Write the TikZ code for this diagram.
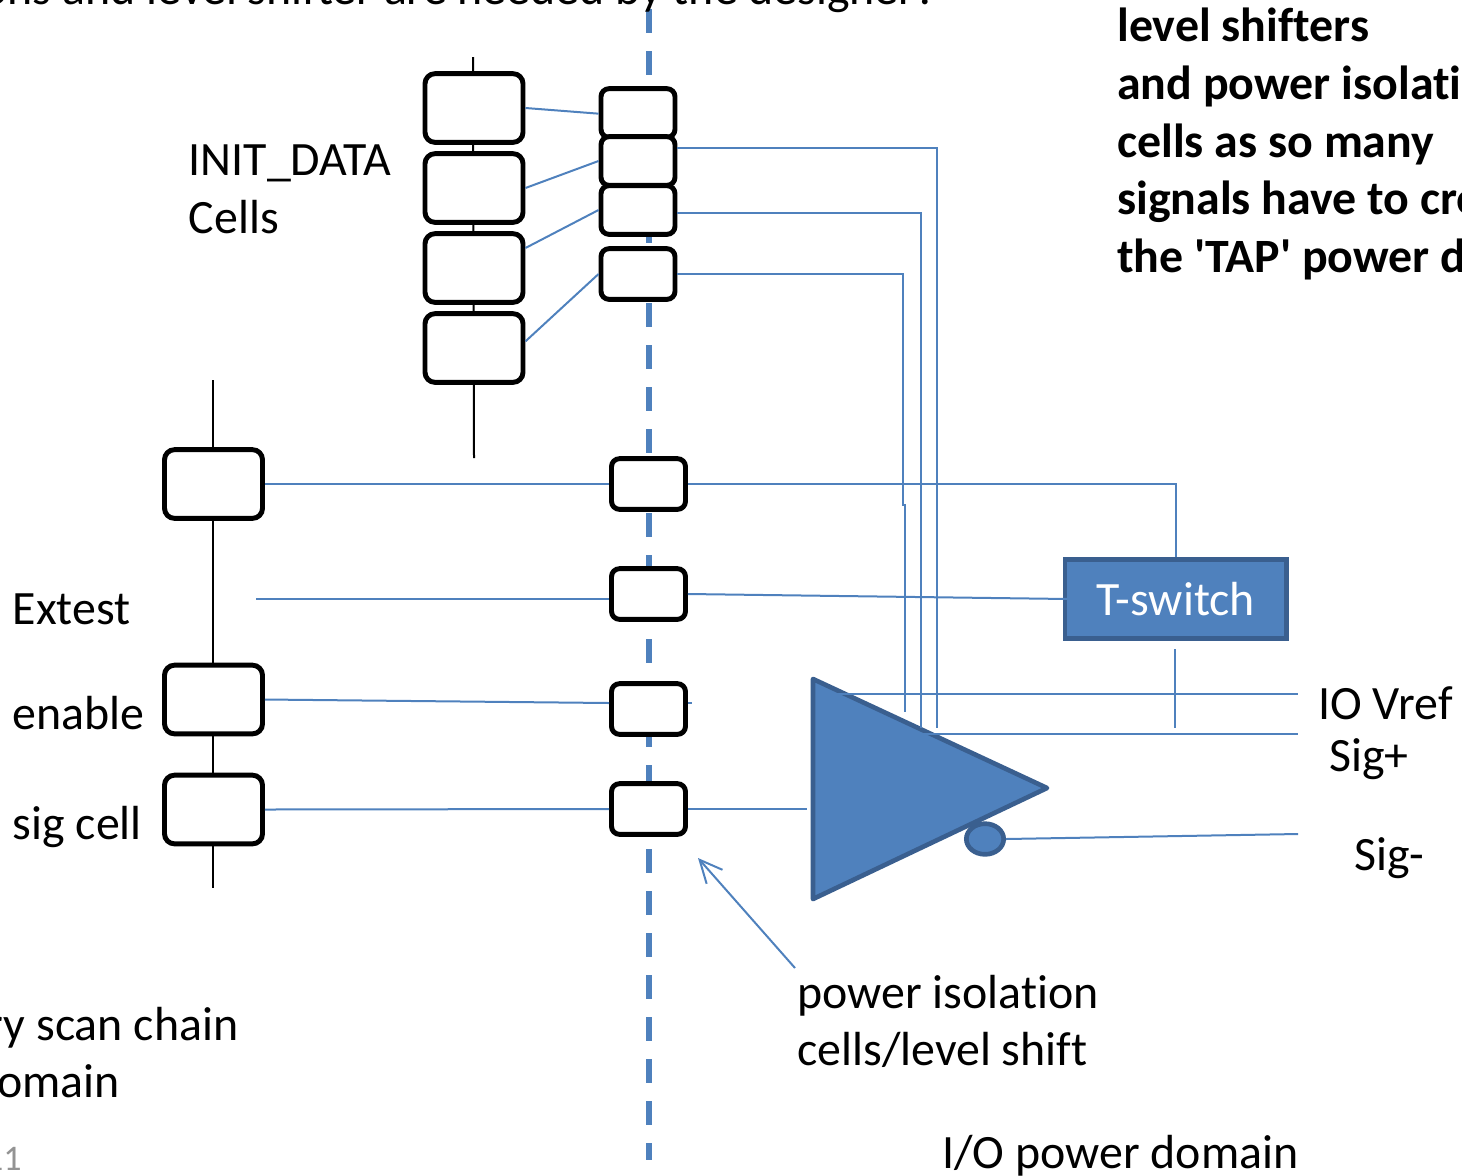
\documentclass[tikz,border=0pt]{standalone}
\usepackage{fontspec}
\setmainfont{Carlito}[Ligatures=NoCommon]
\usetikzlibrary{arrows.meta,shapes.geometric}
\definecolor{accent}{HTML}{4F81BD}
\definecolor{accentdark}{HTML}{3A5F8F}
\newcommand{\bodysize}{\fontsize{35.9}{43}\selectfont}
\tikzset{
  x=0.75pt, y=-0.75pt,
  cellbox/.style={draw=black, fill=white, line width=3.7pt, inner sep=0pt},
  bigcell/.style={cellbox, minimum width=73.5pt, minimum height=51.5pt, rounded corners=7.5pt},
  midcell/.style={cellbox, minimum width=55.5pt, minimum height=38pt, rounded corners=6pt},
  chainline/.style={draw=black, line width=1.5pt},
  wire/.style={draw=accent, line width=1.5pt},
  powerline/.style={draw=accent, line width=4.5pt, dash pattern=on 18pt off 13.5pt},
  lbl/.style={anchor=base west, inner sep=0pt, font=\bodysize, text=black},
  boldlbl/.style={lbl, font=\bodysize\bfseries},
  ampfill/.style={fill=accent, draw=accentdark, line width=3.5pt, line join=round},
}
\begin{document}
\begin{tikzpicture}
\useasboundingbox (0,0) rectangle (1462,1175);
\clip (0,0) rectangle (1462,1175);
% free ends
\coordinate (dashtop) at (649,9);
\coordinate (dashbot) at (649,1160);
\coordinate (chainAtop) at (473,57);
\coordinate (chainAbot) at (474,458);
\coordinate (chainBtop) at (213,380);
\coordinate (chainBbot) at (213,888);
\coordinate (extestin) at (256,599);
\coordinate (enablestub) at (692,703);
\coordinate (triin) at (807,809);
\coordinate (vrefL) at (835,694);
\coordinate (vrefR) at (1298,694);
\coordinate (sigpL) at (920,734);
\coordinate (sigpR) at (1298,734);
\coordinate (signR) at (1298,834);
\coordinate (tswdownA) at (1175,649);
\coordinate (tswdownB) at (1175,728);
\coordinate (arrowfrom) at (795,968);
\coordinate (arrowto) at (698,858);
\coordinate (r1end) at (937,728);
\coordinate (r2end) at (921,728);
\coordinate (r3end) at (905,712);
\coordinate (tri1) at (813,679);
\coordinate (tri2) at (1047,788);
\coordinate (tri3) at (813,899);

\draw[powerline] (dashtop) -- (dashbot);
\draw[chainline] (chainAtop) -- (chainAbot);
\draw[chainline] (chainBtop) -- (chainBbot);

% amplifier
\draw[ampfill] (tri1) -- (tri2) -- (tri3) -- cycle;
\node[ellipse, draw=accentdark, fill=accent, line width=3.5pt, minimum width=28pt, minimum height=23pt, inner sep=0pt] (bubble) at (985,839) {};

% cells
\node[bigcell] (a1) at (474,108) {};
\node[bigcell] (a2) at (474,188) {};
\node[bigcell] (a3) at (474,268) {};
\node[bigcell] (a4) at (474,348) {};
\node[midcell, minimum height=36.5pt] (s1) at (638,113) {};
\node[midcell, minimum height=36.5pt] (s2) at (638,161) {};
\node[midcell, minimum height=36.5pt] (s3) at (638,210) {};
\node[midcell] (s4) at (638,274) {};
\node[bigcell] (b1) at (213.5,484) {};
\node[bigcell] (b2) at (213.5,699.5) {};
\node[bigcell] (b3) at (213.5,809.5) {};
\node[midcell] (m1) at (648.5,484) {};
\node[midcell] (m2) at (648.5,594) {};
\node[midcell] (m3) at (648.5,709) {};
\node[midcell] (m4) at (648.5,809) {};
\node[draw=accentdark, fill=accent, line width=3.5pt, minimum width=166pt, minimum height=59.5pt, inner sep=0pt, text=white, font=\bodysize] (tsw) at (1175.5,599) {T-switch};

% wires
\draw[wire] (a1.east) -- ([yshift=-0.5pt]s1.west);
\draw[wire] (a2.east) -- (s2.west);
\draw[wire] ([yshift=15pt]a3.east) -- (s3.west);
\draw[wire] ([yshift=5pt]a4.east) -- (s4.west);
\draw[wire] (s2.east |- 0,148) -| (r1end);
\draw[wire] (s3.east |- 0,213) -| (r2end);
\draw[wire] (s4.east) -| (903,505) -- (905,505) -- (r3end);
\draw[wire] (b1.east) -- (m1.west);
\draw[wire] (m1.east) -| (tsw.north);
\draw[wire] (extestin) -- (m2.west |- extestin);
\draw[wire] (m2.east) -- (1068,599);
\draw[wire] (b2.east) -- (m3.west |- enablestub);
\draw[wire] (m3.east |- enablestub) -- (enablestub);
\draw[wire] (b3.east) -- (m4.west);
\draw[wire] (m4.east) -- (triin);
\draw[wire] (vrefL) -- (vrefR);
\draw[wire] (sigpL) -- (sigpR);
\draw[wire] (bubble.east) -- (signR);
\draw[wire] (tswdownA) -- (tswdownB);
\draw[wire, -{Straight Barb[length=17pt,width=15pt,angle'=50]}] (arrowfrom) -- (arrowto);

% text
\node[lbl, anchor=base east] (t0) at (938,4) {ons and level shifter are needed by the designer?};
\node[boldlbl] (t1) at (1117,41.5) {level shifters};
\node[boldlbl] (t2) at (1117,99.5) {and power isolation};
\node[boldlbl] (t3) at (1117,157) {cells as so many};
\node[boldlbl] (t4) at (1117,214.5) {signals have to cross};
\node[boldlbl] (t5) at (1117,272) {the \textquotesingle TAP\textquotesingle\ power domain};
\node[lbl] (t6) at (188.5,175.5) {INIT\_DATA};
\node[lbl] (t7) at (188.5,233.5) {Cells};
\node[lbl] (t8) at (12.5,624.5) {Extest};
\node[lbl] (t9) at (12.5,729.5) {enable};
\node[lbl] (t10) at (12.5,839.5) {sig cell};
\node[lbl] (t11) at (1318,719) {IO Vref};
\node[lbl] (t12) at (1329,771) {Sig+};
\node[lbl] (t13) at (1354,870) {Sig-};
\node[lbl] (t14) at (797,1008.5) {power isolation};
\node[lbl] (t15) at (797,1065.5) {cells/level shift};
\node[lbl] (t16) at (942,1168) {I/O power domain};
\node[lbl, anchor=base east] (t17) at (238.5,1040.5) {ry scan chain};
\node[lbl, anchor=base east] (t18) at (120,1097.5) {omain};
\node[lbl, font=\fontsize{27}{30}\selectfont, text=gray!85, anchor=base east] (t19) at (22,1170) {11};
\end{tikzpicture}
\end{document}
